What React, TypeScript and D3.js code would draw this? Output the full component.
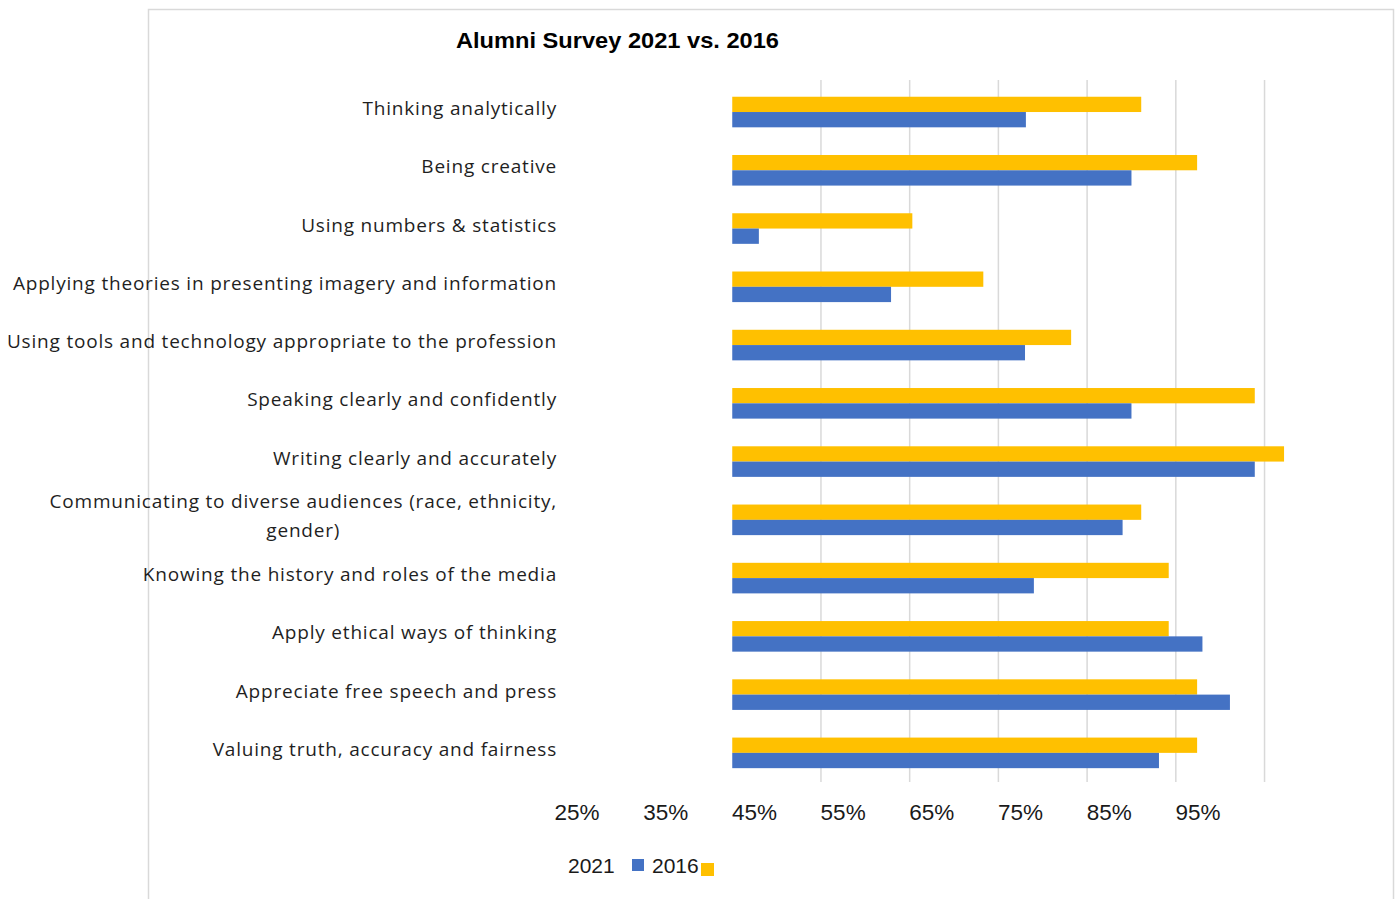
import React, { useEffect, useRef } from "react";
import * as d3 from "d3";

const title = "Alumni Survey 2021 vs. 2016";

const categories: string[][] = [
  ["Thinking analytically"],
  ["Being creative"],
  ["Using numbers & statistics"],
  ["Applying theories in presenting imagery and information"],
  ["Using tools and technology appropriate to the profession"],
  ["Speaking clearly and confidently"],
  ["Writing clearly and accurately"],
  ["Communicating to diverse audiences (race, ethnicity,", "gender)"],
  ["Knowing the history and roles of the media"],
  ["Apply ethical ways of thinking"],
  ["Appreciate free speech and press"],
  ["Valuing truth, accuracy and fairness"],
];

// blue bars
const values2021: number[] = [75.6, 87.5, 45.5, 60.4, 75.5, 87.5, 101.4, 86.5, 76.5, 95.5, 98.6, 90.6];
// yellow bars
const values2016: number[] = [88.6, 94.9, 62.8, 70.8, 80.7, 101.4, 104.7, 88.6, 91.7, 91.7, 94.9, 94.9];

const tickLabels: number[] = [25, 35, 45, 55, 65, 75, 85, 95];
const axisMin = 42.5;
const gridValues: number[] = [52.5, 62.5, 72.5, 82.5, 92.5, 102.5];

const seriesNames = ["2016", "2021"]; // order inside a band: yellow on top, blue below
const colors: Record<string, string> = { "2021": "#4472C4", "2016": "#FFC000" };

export default function App() {
  const ref = useRef<SVGSVGElement | null>(null);

  useEffect(() => {
    document.body.style.margin = "0";
    const svg = d3.select(ref.current);
    svg.selectAll("*").remove();

    const x = d3.scaleLinear().domain([25, 95]).range([577, 1198]);
    const keys = categories.map((c) => c.join(" "));
    const y = d3
      .scaleBand<string>()
      .domain(keys)
      .range([82.9, 782])
      .paddingInner(0.475)
      .paddingOuter(0.2375);
    const sub = d3.scaleBand<string>().domain(seriesNames).range([0, y.bandwidth()]);

    // frame
    svg
      .append("path")
      .attr("d", "M148.5,899 V9.5 H1393.5 V899")
      .attr("fill", "none")
      .attr("stroke", "#d9d9d9")
      .attr("stroke-width", 1.5);

    // title
    svg
      .append("text")
      .attr("x", 617.5)
      .attr("y", 48)
      .attr("text-anchor", "middle")
      .attr("font-family", "'Liberation Sans', Arial, sans-serif")
      .attr("font-weight", "bold")
      .attr("font-size", 22)
      .attr("fill", "#000")
      .attr("textLength", 323)
      .attr("lengthAdjust", "spacingAndGlyphs")
      .text(title);

    // gridlines
    svg
      .append("g")
      .selectAll("line")
      .data(gridValues)
      .join("line")
      .attr("x1", (d) => x(d))
      .attr("x2", (d) => x(d))
      .attr("y1", 80)
      .attr("y2", 782)
      .attr("stroke", "#d9d9d9")
      .attr("stroke-width", 1.5);

    // bars
    const rows = keys.map((k, i) => ({ k, v2021: values2021[i], v2016: values2016[i] }));
    const g = svg.append("g");
    rows.forEach((r) => {
      seriesNames.forEach((s) => {
        const v = s === "2021" ? r.v2021 : r.v2016;
        g.append("rect")
          .attr("x", x(axisMin))
          .attr("y", (y(r.k) as number) + (sub(s) as number))
          .attr("width", x(v) - x(axisMin))
          .attr("height", sub.bandwidth())
          .attr("fill", colors[s]);
      });
    });

    // category labels
    const lg = svg.append("g");
    categories.forEach((lines, i) => {
      const cy = (y(keys[i]) as number) + y.bandwidth() / 2;
      const lineH = 29;
      const base = cy + 3 - ((lines.length - 1) * lineH) / 2;
      const t = lg
        .append("text")
        .attr("font-family", "'Open Sans', sans-serif")
        .attr("font-size", 19)
        .attr("letter-spacing", "0.8px")
        .attr("fill", "#1f1f1f");
      if (lines.length === 1) {
        t.attr("x", 557).attr("y", base).attr("text-anchor", "end").text(lines[0]);
      } else {
        const first = t.append("tspan").text(lines[0]);
        const w = (first.node() as SVGTSpanElement).getComputedTextLength();
        const cx = 557 - w / 2;
        t.attr("text-anchor", "middle");
        first.attr("x", cx).attr("y", base);
        lines.slice(1).forEach((ln, j) => {
          t.append("tspan")
            .attr("x", cx)
            .attr("y", base + (j + 1) * lineH)
            .text(ln);
        });
      }
    });

    // x tick labels
    svg
      .append("g")
      .selectAll("text")
      .data(tickLabels)
      .join("text")
      .attr("x", (d) => x(d))
      .attr("y", 820)
      .attr("text-anchor", "middle")
      .attr("font-family", "'Liberation Sans', Arial, sans-serif")
      .attr("font-size", 22.5)
      .attr("fill", "#1a1a1a")
      .text((d) => `${d}%`);

    // legend
    const leg = svg.append("g").attr("font-family", "'Liberation Sans', Arial, sans-serif").attr("font-size", 21).attr("fill", "#1a1a1a");
    leg.append("text").attr("x", 568).attr("y", 873).text("2021");
    leg.append("rect").attr("x", 632).attr("y", 859).attr("width", 12).attr("height", 12).attr("fill", colors["2021"]);
    leg.append("text").attr("x", 652).attr("y", 873).text("2016");
    leg.append("rect").attr("x", 701).attr("y", 863).attr("width", 13).attr("height", 13).attr("fill", colors["2016"]);
  }, []);

  return (
    <svg
      ref={ref}
      width={1395}
      height={899}
      style={{ position: "absolute", left: 0, top: 0, background: "#fff", display: "block" }}
    />
  );
}
